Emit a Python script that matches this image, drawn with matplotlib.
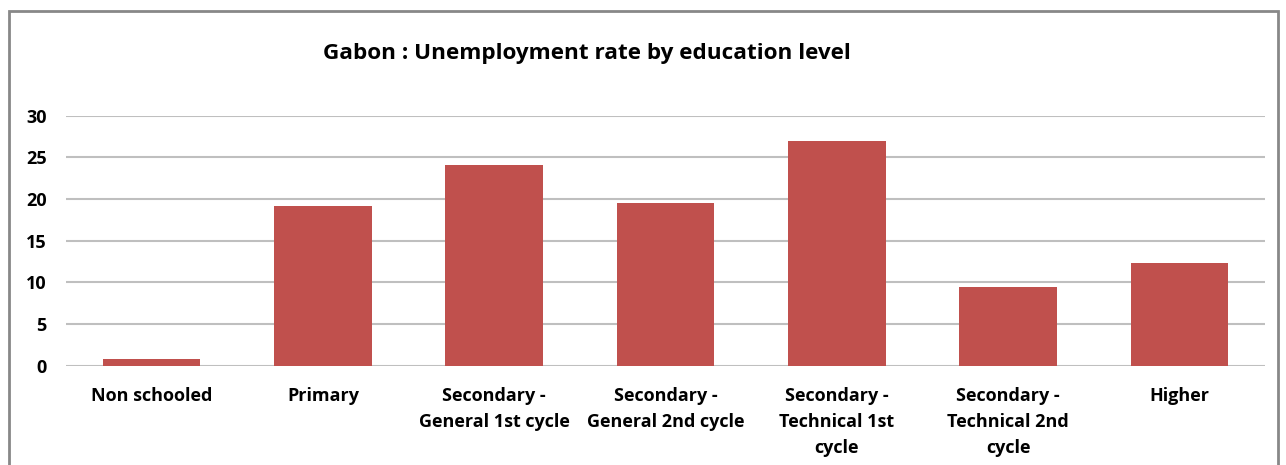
import numpy as np
import matplotlib.pyplot as plt
from matplotlib.patches import Rectangle

levels = ['Non schooled', 'Primary', 'Secondary -\nGeneral 1st cycle',
          'Secondary -\nGeneral 2nd cycle', 'Secondary -\nTechnical 1st\ncycle',
          'Secondary -\nTechnical 2nd\ncycle', 'Higher']
rate = [0.8, 19.2, 24.1, 19.5, 27.0, 9.5, 12.3]
yticks = [0, 5, 10, 15, 20, 25, 30]

plt.rcParams['font.family'] = ['Open Sans', 'DejaVu Sans']
plt.rcParams['font.weight'] = 'bold'

fig = plt.figure(figsize=(12.86, 4.65), dpi=100)
ax = fig.add_axes([0.0513, 0.2135, 0.9324, 0.5377])

x = np.arange(len(levels))
ax.bar(x, rate, width=0.57, color='#C0504D', zorder=3)

ax.set_xlim(-0.5, len(levels) - 0.5)
ax.set_ylim(0, 30)
ax.set_yticks(yticks)
ax.set_xticks(x)
ax.set_xticklabels(levels, fontsize=13, fontweight='bold', linespacing=1.6)
ax.tick_params(axis='y', length=0, pad=14, labelsize=13)
ax.tick_params(axis='x', length=0, pad=15)
for lab in ax.get_yticklabels():
    lab.set_fontweight('bold')
ax.grid(axis='y', color='#BFBFBF', linewidth=1.5, zorder=0)
for s in ax.spines.values():
    s.set_visible(False)

fig.text(0.456, 0.886, 'Gabon : Unemployment rate by education level',
         ha='center', va='center', fontsize=16.2, fontweight='bold')

# outer chart border
fig.patches.append(Rectangle((0.007, -0.05), 0.987, 1.026, transform=fig.transFigure,
                             fill=False, edgecolor='#888888', linewidth=2))

fig.savefig('out.png', dpi=100)
